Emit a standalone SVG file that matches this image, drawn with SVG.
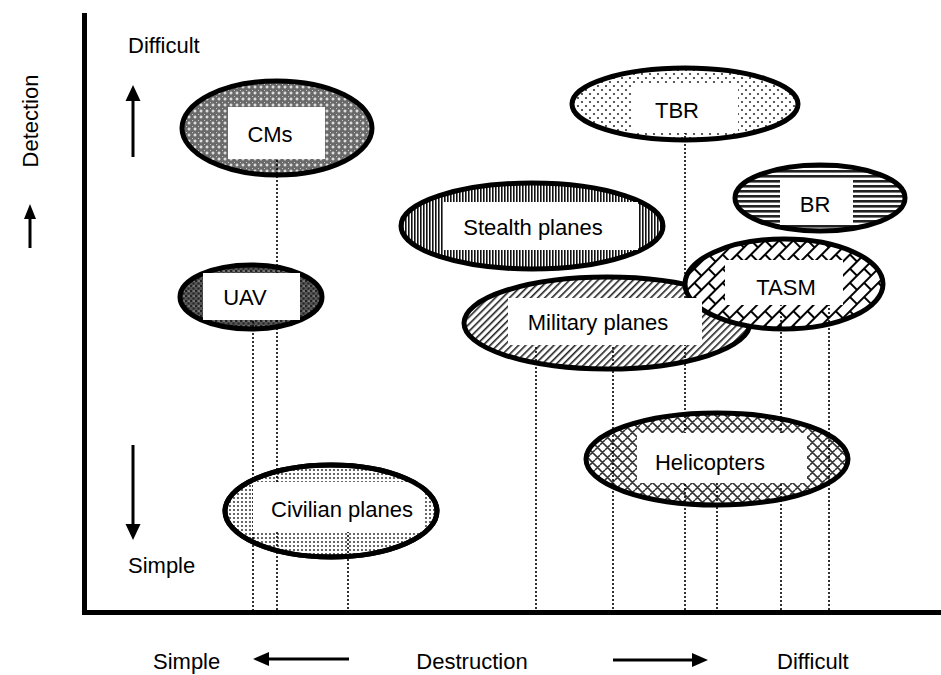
<svg xmlns="http://www.w3.org/2000/svg" width="941" height="675" viewBox="0 0 941 675">
<style>
.ell{stroke:#000;stroke-width:5}
.box{fill:#fff;stroke:none}
.lbl{font-family:"Liberation Sans",Arial,sans-serif;font-size:22px;fill:#000;text-anchor:middle}
.ax{font-family:"Liberation Sans",Arial,sans-serif;font-size:22px;fill:#000}
.dot{stroke:#000;stroke-width:1.6;stroke-dasharray:2 2;fill:none}
.axis{stroke:#000;stroke-width:5;fill:none}
.arr{stroke:#000;stroke-width:3;fill:none}
</style>
<defs>
<pattern id="pCM" width="6" height="6" patternUnits="userSpaceOnUse">
<rect width="6" height="6" fill="#6a6a6a"/>
<path d="M3 1.5V4.5M1.5 3H4.5" stroke="#fff" stroke-width="1.1"/>
<path d="M0 0.5H1M0.5 0V1" stroke="#ccc" stroke-width="0.8"/>
</pattern>
<pattern id="pUAV" width="5" height="5" patternUnits="userSpaceOnUse">
<rect width="5" height="5" fill="#555"/>
<rect x="0" y="0" width="2" height="2" fill="#222"/>
<rect x="2.5" y="2.5" width="2" height="2" fill="#222"/>
<circle cx="4" cy="1" r="0.6" fill="#ddd"/>
</pattern>
<pattern id="pTBR" width="8" height="8" patternUnits="userSpaceOnUse">
<rect width="8" height="8" fill="#fff"/>
<circle cx="2" cy="2" r="1.1" fill="#333"/>
<circle cx="6" cy="6" r="1.1" fill="#333"/>
</pattern>
<pattern id="pCiv" width="4" height="4" patternUnits="userSpaceOnUse">
<rect width="4" height="4" fill="#fff"/>
<circle cx="2" cy="2" r="1.1" fill="#444"/>
</pattern>
<pattern id="pSt" width="3" height="3" patternUnits="userSpaceOnUse">
<rect width="3" height="3" fill="#fff"/>
<rect x="0" y="0" width="1.6" height="3" fill="#111"/>
</pattern>
<pattern id="pBR" width="5" height="5" patternUnits="userSpaceOnUse">
<rect width="5" height="5" fill="#fff"/>
<rect x="0" y="0" width="5" height="2.6" fill="#222"/>
</pattern>
<pattern id="pMil" width="5" height="5" patternUnits="userSpaceOnUse" patternTransform="rotate(45)">
<rect width="5" height="5" fill="#fff"/>
<rect x="0" y="0" width="1.6" height="5" fill="#222"/>
</pattern>
<pattern id="pTASM" width="20" height="20" patternUnits="userSpaceOnUse" patternTransform="rotate(-45)">
<rect width="20" height="20" fill="#fff"/>
<path d="M0 1H20M0 11H20M1 1V11M11 11V20" stroke="#000" stroke-width="2" fill="none"/>
</pattern>
<pattern id="pHel" width="10" height="10" patternUnits="userSpaceOnUse">
<rect width="10" height="10" fill="#fff"/>
<path d="M0 5L5 0M5 10L10 5M0 0L10 10M-1 9L1 11M9 -1L11 1" stroke="#333" stroke-width="1.6" fill="none"/>
</pattern>
</defs>

<g id="axes">
<path class="axis" d="M84.5 13V612.5H941"/>
</g>

<g id="labels">
<text class="ax" x="128" y="53">Difficult</text>
<text class="ax" x="128" y="573">Simple</text>
<text class="ax" transform="translate(38,121) rotate(-90)" text-anchor="middle">Detection</text>
<text class="ax" x="153" y="669">Simple</text>
<text class="ax" x="472" y="669" text-anchor="middle">Destruction</text>
<text class="ax" x="777" y="669">Difficult</text>
<line class="arr" x1="133" y1="157" x2="133" y2="98"/>
<polygon points="133,85 125.5,101 140.5,101"/>
<line class="arr" x1="133" y1="445" x2="133" y2="527"/>
<polygon points="133,540 125.5,524 140.5,524"/>
<line class="arr" x1="30" y1="248" x2="30" y2="216"/>
<polygon points="30,204 24,219 36,219"/>
<line class="arr" x1="349" y1="659" x2="266" y2="659"/>
<polygon points="253,659 269,652 269,666"/>
<line class="arr" x1="613" y1="660" x2="695" y2="660"/>
<polygon points="708,660 692,653 692,667"/>
</g>

<g id="n-cms"><ellipse class="ell" cx="277" cy="128" rx="95" ry="47" fill="url(#pCM)"/></g>
<g id="n-tbr"><ellipse class="ell" cx="685" cy="104" rx="113" ry="36" fill="url(#pTBR)"/></g>
<g id="n-stealth"><ellipse class="ell" cx="532" cy="226" rx="131" ry="43" fill="url(#pSt)"/></g>
<g id="n-br"><ellipse class="ell" cx="820" cy="198" rx="85" ry="33" fill="url(#pBR)"/></g>
<g id="n-military"><ellipse class="ell" cx="607" cy="323" rx="143" ry="46" fill="url(#pMil)"/></g>
<g id="n-tasm"><ellipse class="ell" cx="784" cy="284" rx="99" ry="45" fill="url(#pTASM)"/></g>
<g id="n-uav"><ellipse class="ell" cx="251" cy="297" rx="71" ry="32" fill="url(#pUAV)"/></g>
<g id="n-heli"><ellipse class="ell" cx="717" cy="459" rx="131" ry="46" fill="url(#pHel)"/></g>
<g id="n-civil"><ellipse class="ell" cx="331" cy="511" rx="106" ry="46" fill="url(#pCiv)"/></g>

<g id="connectors">
<line class="dot" x1="277" y1="128" x2="277" y2="610"/>
<line class="dot" x1="253" y1="297" x2="253" y2="610"/>
<line class="dot" x1="348" y1="511" x2="348" y2="610"/>
<line class="dot" x1="536" y1="323" x2="536" y2="610"/>
<line class="dot" x1="613" y1="323" x2="613" y2="610"/>
<line class="dot" x1="685" y1="104" x2="685" y2="610"/>
<line class="dot" x1="717" y1="459" x2="717" y2="610"/>
<line class="dot" x1="781" y1="284" x2="781" y2="610"/>
<line class="dot" x1="829" y1="284" x2="829" y2="610"/>
</g>

<g id="t-cms"><rect class="box" x="228" y="107" width="97" height="52"/><text class="lbl" x="270" y="142">CMs</text></g>
<g id="t-tbr"><rect class="box" x="633" y="83" width="105" height="50"/><text class="lbl" x="677" y="118">TBR</text></g>
<g id="t-stealth"><rect class="box" x="443" y="202" width="195" height="48"/><text class="lbl" x="533" y="235">Stealth planes</text></g>
<g id="t-br"><rect class="box" x="780" y="178" width="73" height="47"/><text class="lbl" x="815" y="212">BR</text></g>
<g id="t-military"><rect class="box" x="508" y="298" width="194" height="47"/><text class="lbl" x="598" y="330">Military planes</text></g>
<g id="t-tasm"><rect class="box" x="725" y="260" width="118" height="45"/><text class="lbl" x="786" y="295">TASM</text></g>
<g id="t-uav"><rect class="box" x="203" y="273" width="97" height="47"/><text class="lbl" x="245" y="305">UAV</text></g>
<g id="t-heli"><rect class="box" x="637" y="433" width="170" height="50"/><text class="lbl" x="710" y="470">Helicopters</text></g>
<g id="t-civil"><rect class="box" x="253" y="482" width="170" height="50"/><text class="lbl" x="342" y="517">Civilian planes</text><ellipse cx="331" cy="511" rx="106" ry="46" fill="none" stroke="#000" stroke-width="5"/></g>
</svg>
